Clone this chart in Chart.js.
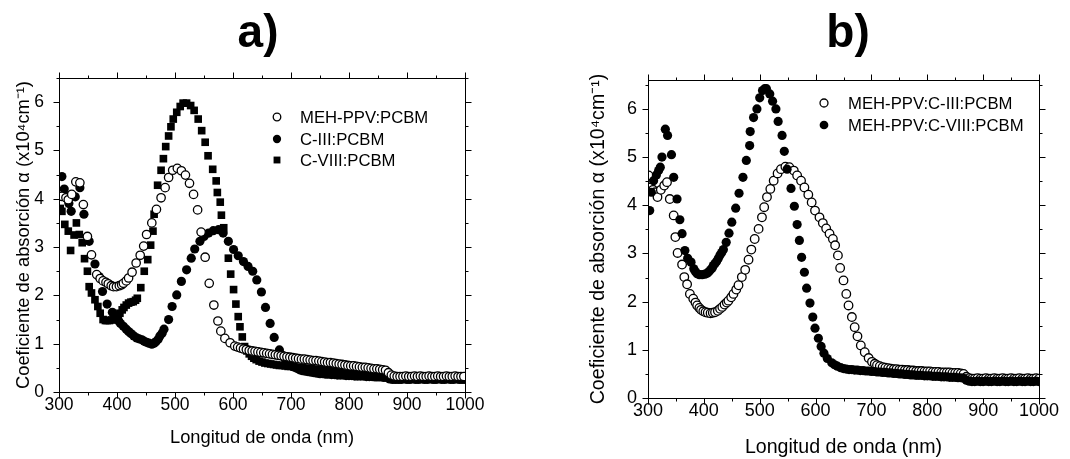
<!DOCTYPE html>
<html><head><meta charset="utf-8">
<script src="https://cdn.jsdelivr.net/npm/chart.js@4.4.1/dist/chart.umd.min.js"></script>
<style>
html,body{margin:0;padding:0;background:#fff;}
#wrap{position:relative;width:1070px;height:459px;overflow:hidden;}
#chartA{position:absolute;left:0;top:0;}
#chartB{position:absolute;left:540px;top:0;}
</style></head><body>
<div id="wrap">
<canvas id="chartA" width="540" height="459"></canvas>
<canvas id="chartB" width="530" height="459"></canvas>
</div>
<script>
const FONT = '"Liberation Sans", Arial, Helvetica, sans-serif';
const xTicks = [300,400,500,600,700,800,900,1000];
const yTicks = [0,1,2,3,4,5,6];
const xLabel = 'Longitud de onda (nm)';
const yLabel = 'Coeficiente de absorción α (x10⁴cm⁻¹)';
const legendA = ['MEH-PPV:PCBM','C-III:PCBM','C-VIII:PCBM'];
const legendB = ['MEH-PPV:C-III:PCBM','MEH-PPV:C-VIII:PCBM'];

// ---- panel a) ----
const mehPpvPcbm = [[305,4.05],[312,4.02],[316,3.98],[322,4.09],[329,4.35],[336,4.33],[342,3.88],[349,3.22],[356,2.84],[365,2.43],[371,2.35],[376,2.30],[381,2.27],[385,2.24],[390,2.20],[394,2.18],[399,2.18],[404,2.20],[408,2.22],[411,2.25],[416,2.30],[420,2.36],[426,2.48],[433,2.67],[440,2.83],[446,3.02],[451,3.26],[460,3.50],[468,3.78],[476,4.02],[483,4.23],[489,4.44],[496,4.59],[504,4.63],[511,4.58],[518,4.49],[525,4.32],[532,4.09],[539,3.77],[545,3.31],[552,2.79],[559,2.25],[567,1.80],[574,1.47],[579,1.26],[586,1.11],[595,1.02],[603,0.95],
[608,0.93],[613,0.91],[618,0.89],[623,0.88],[628,0.86],[633,0.85],[638,0.84],[643,0.83],[648,0.82],[653,0.81],[658,0.80],[663,0.79],[668,0.78],[673,0.77],[678,0.76],[683,0.75],[688,0.74],[693,0.73],[698,0.72],[703,0.71],[708,0.70],[713,0.69],[718,0.68],[723,0.68],[728,0.67],[733,0.66],[738,0.65],[743,0.65],[748,0.64],[753,0.63],[758,0.62],[763,0.61],[768,0.61],[773,0.60],[778,0.59],[783,0.58],[788,0.57],[793,0.56],[798,0.55],[803,0.54],[808,0.54],[813,0.53],[818,0.52],[823,0.51],[828,0.51],[833,0.50],[838,0.49],[843,0.48],[848,0.48],[853,0.47],[858,0.46],[863,0.45],[868,0.40],[873,0.35],[878,0.33],[883,0.32],[888,0.32],[893,0.32],[898,0.33],[903,0.32],[908,0.32],[913,0.33],[918,0.32],[923,0.33],[928,0.32],[933,0.32],[938,0.33],[943,0.32],[948,0.32],[953,0.33],[958,0.32],[963,0.32],[968,0.33],[973,0.32],[978,0.32],[983,0.33],[988,0.32],[993,0.32],[998,0.32]];

const c3Pcbm = [[305,4.46],[309,4.20],[313,4.06],[317,3.90],[321,3.74],[328,4.04],[336,4.23],[343,3.68],[352,3.12],[362,2.65],[369,2.39],[375,2.08],[383,1.82],[392,1.65],[396,1.58],[399,1.53],[403,1.47],[406,1.42],[411,1.36],[416,1.30],[420,1.25],[424,1.21],[429,1.16],[434,1.12],[438,1.10],[443,1.08],[447,1.05],[451,1.03],[455,1.01],[460,0.99],[464,1.01],[467,1.04],[471,1.09],[474,1.16],[478,1.22],[481,1.30],[489,1.50],[495,1.77],[503,2.01],[511,2.29],[520,2.53],[528,2.77],[534,2.96],[543,3.12],[550,3.22],[558,3.29],[566,3.34],[575,3.36],[583,3.29],[592,3.12],[601,2.95],[609,2.82],[618,2.70],[626,2.60],[634,2.50],[641,2.32],[649,2.07],[656,1.75],[664,1.42],[671,1.13],[680,0.87],
[685,0.76],[690,0.68],[695,0.61],[700,0.56],[705,0.52],[710,0.49],[715,0.46],[720,0.44],[725,0.43],[730,0.42],[735,0.41],[740,0.40],[745,0.39],[750,0.38],[755,0.38],[760,0.37],[765,0.37],[770,0.36],[775,0.36],[780,0.35],[785,0.35],[790,0.35],[795,0.34],[800,0.34],[805,0.34],[810,0.33],[815,0.33],[820,0.33],[825,0.33],[830,0.32],[835,0.32],[840,0.32],[845,0.31],[850,0.31],[855,0.31],[860,0.30],[865,0.30],[870,0.27],[875,0.26],[880,0.26],[885,0.26],[890,0.26],[895,0.27],[900,0.26],[905,0.26],[910,0.27],[915,0.26],[920,0.26],[925,0.27],[930,0.26],[935,0.26],[940,0.27],[945,0.26],[950,0.26],[955,0.27],[960,0.26],[965,0.26],[970,0.27],[975,0.26],[980,0.26],[985,0.27],[990,0.26],[995,0.26],[1000,0.26]];

const c8Pcbm = [[302,3.80],[305,3.74],[310,3.47],[316,3.33],[320,2.93],[326,3.25],[330,3.50],[335,3.26],[340,3.09],[344,2.76],[349,2.50],[352,2.18],[356,2.05],[362,1.91],[367,1.77],[371,1.63],[376,1.50],[380,1.48],[383,1.48],[387,1.48],[391,1.49],[395,1.51],[398,1.54],[402,1.58],[405,1.63],[409,1.70],[412,1.75],[416,1.80],[420,1.84],[424,1.86],[428,1.87],[432,1.90],[435,1.94],[441,2.16],[447,2.50],[453,2.74],[458,3.04],[462,3.33],[464,3.68],[470,4.28],[476,4.59],[480,4.83],[484,5.08],[489,5.30],[493,5.49],[497,5.65],[503,5.79],[509,5.91],[514,5.98],[520,5.98],[527,5.93],[533,5.83],[540,5.65],[546,5.41],[552,5.17],[557,4.89],[565,4.61],[571,4.37],[573,4.13],[578,3.93],[580,3.66],[584,3.40],[592,2.77],[596,2.44],[601,2.12],[605,1.82],[609,1.56],[612,1.35],[616,1.14],[620,0.94],
[624,0.85],[628,0.79],[632,0.74],[636,0.70],[640,0.67],[645,0.64],[650,0.62],[655,0.60],[660,0.59],[665,0.58],[670,0.57],[675,0.56],[680,0.55],[685,0.55],[690,0.54],[695,0.53],[700,0.53],[705,0.52],[710,0.51],[715,0.51],[720,0.50],[725,0.49],[730,0.49],[735,0.48],[740,0.47],[745,0.47],[750,0.46],[755,0.46],[760,0.45],[765,0.45],[770,0.44],[775,0.44],[780,0.43],[785,0.43],[790,0.43],[795,0.42],[800,0.42],[805,0.42],[810,0.41],[815,0.41],[820,0.41],[825,0.40],[830,0.40],[835,0.40],[840,0.39],[845,0.39],[850,0.39],[855,0.38],[860,0.38],[865,0.37],[870,0.32],[875,0.29],[880,0.28],[885,0.28],[890,0.29],[895,0.28],[900,0.28],[905,0.29],[910,0.28],[915,0.28],[920,0.29],[925,0.28],[930,0.28],[935,0.29],[940,0.28],[945,0.28],[950,0.29],[955,0.28],[960,0.28],[965,0.29],[970,0.28],[975,0.28],[980,0.29],[985,0.28],[990,0.28],[995,0.29],[1000,0.28]];

// ---- panel b) ----
const mehC3Pcbm = [[301,4.62],[305,4.37],[309,4.32],[313,4.27],[317,4.17],[323,4.32],[329,4.41],[334,4.48],[339,4.13],[346,3.79],[349,3.34],[353,3.01],[361,2.77],[365,2.51],[370,2.36],[375,2.16],[381,2.06],[385,1.98],[388,1.92],[392,1.87],[395,1.83],[399,1.80],[403,1.78],[407,1.77],[412,1.76],[416,1.77],[420,1.78],[425,1.81],[429,1.85],[433,1.89],[437,1.94],[441,1.98],[444,2.02],[449,2.09],[453,2.16],[458,2.25],[462,2.34],[468,2.51],[474,2.66],[480,2.87],[485,3.08],[491,3.30],[498,3.51],[504,3.75],[508,3.96],[513,4.17],[519,4.34],[525,4.51],[532,4.66],[538,4.75],[546,4.80],[553,4.79],[561,4.72],[567,4.62],[574,4.51],[580,4.37],[587,4.22],[593,4.06],[599,3.89],[607,3.75],[613,3.63],[619,3.52],[625,3.41],[631,3.30],[635,3.17],[640,2.96],[644,2.70],[650,2.44],[655,2.16],[659,1.92],[665,1.68],[670,1.47],[675,1.28],[681,1.09],[688,0.95],[695,0.83],[701,0.75],[706,0.71],[710,0.68],
[715,0.66],[720,0.64],[725,0.63],[730,0.62],[735,0.61],[740,0.60],[745,0.60],[750,0.59],[755,0.59],[760,0.58],[765,0.58],[770,0.57],[775,0.57],[780,0.56],[785,0.56],[790,0.56],[795,0.55],[800,0.55],[805,0.55],[810,0.54],[815,0.54],[820,0.54],[825,0.53],[830,0.53],[835,0.53],[840,0.53],[845,0.52],[850,0.52],[855,0.52],[860,0.51],[865,0.50],[870,0.44],[875,0.41],[880,0.40],[885,0.40],[890,0.41],[895,0.40],[900,0.40],[905,0.41],[910,0.40],[915,0.40],[920,0.41],[925,0.40],[930,0.40],[935,0.41],[940,0.40],[945,0.40],[950,0.41],[955,0.40],[960,0.40],[965,0.41],[970,0.40],[975,0.40],[980,0.41],[985,0.40],[990,0.40],[995,0.41],[1000,0.40]];

const mehC8Pcbm = [[303,3.89],[306,4.27],[310,4.51],[315,4.63],[319,4.72],[322,4.79],[325,5.00],[331,5.58],[335,5.45],[342,5.05],[346,4.58],[352,4.13],[357,3.70],[361,3.41],[366,3.06],[371,2.90],[377,2.82],[382,2.68],[385,2.62],[388,2.58],[392,2.56],[397,2.56],[402,2.57],[406,2.59],[409,2.62],[412,2.66],[415,2.70],[417,2.75],[420,2.79],[423,2.84],[426,2.90],[429,2.97],[432,3.02],[435,3.08],[440,3.23],[445,3.42],[450,3.65],[457,3.94],[463,4.25],[470,4.58],[476,4.93],[482,5.24],[483,5.53],[489,5.82],[495,6.00],[500,6.23],[505,6.38],[509,6.42],[512,6.42],[518,6.31],[523,6.16],[529,6.00],[533,5.74],[540,5.45],[544,5.12],[549,4.75],[556,4.35],[562,3.98],[567,3.60],[571,3.27],[575,2.92],[580,2.61],[584,2.28],[590,1.97],[595,1.68],[599,1.45],[605,1.24],[610,1.07],[615,0.93],[621,0.82],[629,0.73],[634,0.69],[639,0.66],[645,0.63],[650,0.61],
[655,0.60],[660,0.59],[665,0.59],[670,0.58],[675,0.58],[680,0.57],[685,0.57],[690,0.56],[695,0.56],[700,0.55],[705,0.55],[710,0.54],[715,0.54],[720,0.53],[725,0.53],[730,0.52],[735,0.52],[740,0.51],[745,0.51],[750,0.50],[755,0.50],[760,0.49],[765,0.49],[770,0.48],[775,0.48],[780,0.47],[785,0.47],[790,0.47],[795,0.46],[800,0.46],[805,0.46],[810,0.45],[815,0.45],[820,0.45],[825,0.44],[830,0.44],[835,0.44],[840,0.43],[845,0.43],[850,0.43],[855,0.42],[860,0.42],[865,0.41],[870,0.37],[875,0.35],[880,0.34],[885,0.34],[890,0.35],[895,0.34],[900,0.34],[905,0.35],[910,0.34],[915,0.34],[920,0.35],[925,0.34],[930,0.34],[935,0.35],[940,0.34],[945,0.34],[950,0.35],[955,0.34],[960,0.34],[965,0.35],[970,0.34],[975,0.34],[980,0.35],[985,0.34],[990,0.34],[995,0.35],[1000,0.34]];

const toXY = arr => arr.map(([x, y]) => ({x, y}));

function markerStyle(kind, scale) {
  if (kind === 'open')   return {pointStyle:'circle', pointRadius:4.2*scale, pointBackgroundColor:'#fff', pointBorderColor:'#000', pointBorderWidth:1.3};
  if (kind === 'filled') return {pointStyle:'circle', pointRadius:4.6*scale, pointBackgroundColor:'#000', pointBorderColor:'#000', pointBorderWidth:0};
  return {pointStyle:'rect', pointRadius:5.4*scale, pointBackgroundColor:'#000', pointBorderColor:'#000', pointBorderWidth:0};
}

function drawMarker(ctx, s, x, y) {
  ctx.beginPath();
  if (s.pointStyle === 'rect') {
    const h = s.pointRadius * Math.SQRT1_2;
    ctx.rect(x - h, y - h, 2 * h, 2 * h);
  } else {
    ctx.arc(x, y, s.pointRadius, 0, Math.PI * 2);
  }
  ctx.fillStyle = s.pointBackgroundColor;
  ctx.fill();
  if (s.pointBorderWidth > 0) {
    ctx.lineWidth = s.pointBorderWidth;
    ctx.strokeStyle = s.pointBorderColor;
    ctx.stroke();
  }
}

const frameTicks = {
  id: 'frameTicks',
  afterDraw(chart, args, o) {
    const {ctx, chartArea: a} = chart;
    const sx = chart.scales.x, sy = chart.scales.y;
    ctx.save();
    ctx.strokeStyle = '#000';
    ctx.lineWidth = 1;
    const L = Math.round(a.left) + 0.5, R = Math.round(a.right) + 0.5;
    const T = Math.round(a.top) + 0.5, B = Math.round(a.bottom) + 0.5;
    ctx.strokeRect(L, T, R - L, B - T);
    ctx.beginPath();
    const xs = [];
    for (let i = 0; i < xTicks.length; i++) {
      xs.push([xTicks[i], 6]);
      if (i < xTicks.length - 1) xs.push([(xTicks[i] + xTicks[i + 1]) / 2, 3]);
    }
    xs.forEach(([v, len]) => {
      const p = Math.round(sx.getPixelForValue(v)) + 0.5;
      ctx.moveTo(p, B); ctx.lineTo(p, B + len);
      ctx.moveTo(p, T); ctx.lineTo(p, T - len);
    });
    const ys = [];
    for (let i = 0; i < yTicks.length; i++) {
      ys.push([yTicks[i], 6]);
      ys.push([yTicks[i] + 0.5, 3]);
    }
    ys.forEach(([v, len]) => {
      if (v > sy.max) return;
      const p = Math.round(sy.getPixelForValue(v)) + 0.5;
      ctx.moveTo(L, p); ctx.lineTo(L - len, p);
      ctx.moveTo(R, p); ctx.lineTo(R + len, p);
    });
    ctx.stroke();
    // panel title
    ctx.fillStyle = '#000';
    ctx.font = 'bold 46px ' + FONT;
    ctx.textAlign = 'center';
    ctx.textBaseline = 'alphabetic';
    ctx.fillText(o.title, o.titleX, o.titleY);
    // legend
    ctx.font = o.legendFont + 'px ' + FONT;
    ctx.textAlign = 'left';
    ctx.textBaseline = 'middle';
    o.legend.forEach(item => {
      drawMarker(ctx, markerStyle(item.style, o.markerScale), o.markerX, item.y);
      ctx.fillStyle = '#000';
      ctx.fillText(item.text, o.textX, item.y + 1);
    });
    ctx.restore();
  }
};

function makeOptions(cfg) {
  const tickFont = {size: cfg.tickSize, family: FONT};
  const titleFont = {size: cfg.titleSize, family: FONT};
  return {
    responsive: false,
    animation: false,
    events: [],
    layout: {padding: 0},
    plugins: {
      legend: {display: false},
      tooltip: {enabled: false},
      frameTicks: cfg.plugin
    },
    scales: {
      x: {
        type: 'linear', position: 'bottom', min: 300, max: 1000,
        afterBuildTicks: s => { s.ticks = xTicks.map(v => ({value: v})); },
        afterFit: s => { s.height = cfg.bottomH; },
        grid: {display: false, drawTicks: false}, border: {display: false},
        ticks: {color: '#000', font: tickFont, padding: cfg.xPad, maxRotation: 0, autoSkip: false, callback: v => String(v)},
        title: {display: true, text: xLabel, color: '#000', font: titleFont, padding: {top: 0, bottom: cfg.xTitlePad}}
      },
      y: {
        type: 'linear', position: 'left', min: 0, max: cfg.yMax,
        afterBuildTicks: s => { s.ticks = yTicks.map(v => ({value: v})); },
        afterFit: s => { s.width = cfg.leftW; },
        grid: {display: false, drawTicks: false}, border: {display: false},
        ticks: {color: '#000', font: tickFont, padding: cfg.yPad, autoSkip: false, callback: v => String(v)},
        title: {display: true, text: yLabel, color: '#000', font: titleFont, padding: {top: cfg.yTitlePad, bottom: 0}}
      },
      x2: {
        type: 'linear', position: 'top', min: 300, max: 1000,
        grid: {display: false, drawTicks: false}, border: {display: false},
        ticks: {display: false},
        afterFit: s => { s.height = cfg.topH; }
      },
      y2: {
        type: 'linear', position: 'right', min: 0, max: cfg.yMax,
        grid: {display: false, drawTicks: false}, border: {display: false},
        ticks: {display: false},
        afterFit: s => { s.width = cfg.rightW; }
      }
    }
  };
}

const ds = (label, arr, kind, scale) => Object.assign({label, data: toXY(arr), showLine: false}, markerStyle(kind, scale));

new Chart(document.getElementById('chartA'), {
  type: 'scatter',
  data: {datasets: [
    ds(legendA[0], mehPpvPcbm, 'open', 1),
    ds(legendA[1], c3Pcbm, 'filled', 1),
    ds(legendA[2], c8Pcbm, 'square', 1)
  ]},
  options: makeOptions({
    tickSize: 17.5, titleSize: 18.3, yMax: 6.5, leftW: 59, rightW: 75, topH: 78, bottomH: 67,
    xPad: 3, yPad: 15, xTitlePad: 10, yTitlePad: 13,
    plugin: {title: 'a)', titleX: 258, titleY: 47, markerX: 277, textX: 300, legendFont: 16.7, markerScale: 0.9,
      legend: [{text: legendA[0], style: 'open', y: 117}, {text: legendA[1], style: 'filled', y: 139}, {text: legendA[2], style: 'square', y: 160}]}
  }),
  plugins: [frameTicks]
});

new Chart(document.getElementById('chartB'), {
  type: 'scatter',
  data: {datasets: [
    ds(legendB[1], mehC8Pcbm, 'filled', 1),
    ds(legendB[0], mehC3Pcbm, 'open', 1.02)
  ]},
  options: makeOptions({
    tickSize: 18, titleSize: 19.6, yMax: 6.6, leftW: 108, rightW: 31, topH: 80, bottomH: 61,
    xPad: 2, yPad: 11, xTitlePad: 0, yTitlePad: 47,
    plugin: {title: 'b)', titleX: 308, titleY: 47, markerX: 284, textX: 308, legendFont: 16.7, markerScale: 0.95,
      legend: [{text: legendB[0], style: 'open', y: 103}, {text: legendB[1], style: 'filled', y: 125}]}
  }),
  plugins: [frameTicks]
});
</script>
</body></html>
